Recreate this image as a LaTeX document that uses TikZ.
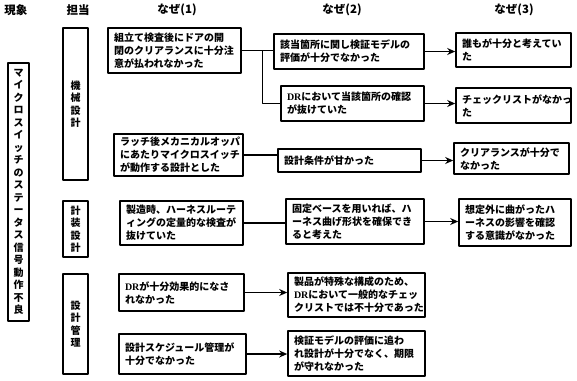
\documentclass[tikz,border=0pt]{standalone}
\usepackage{fontspec}
\setmainfont{Noto Sans CJK JP}
\newfontfamily\latserif{Liberation Serif}
\usetikzlibrary{arrows.meta, calc, positioning}
\newcommand{\DR}{{\latserif\bfseries DR}}
\tikzset{
  every picture/.style={line join=round},
  head/.style={font=\bfseries\fontsize{11.5}{13}\selectfont},
  cause/.style={draw, line width=1.6pt, align=left, inner xsep=6pt, inner ysep=2pt,
    font=\bfseries\fontsize{10}{13}\selectfont},
  vbox/.style={draw, line width=1.6pt, align=center, minimum width=24pt, inner sep=0pt,
    font=\bfseries\fontsize{10}{12.5}\selectfont},
  link/.style={draw, line width=1.4pt},
  flow/.style={link, -{Stealth[length=8pt, width=7pt]}},
}

\begin{document}
\begin{tikzpicture}[x=1pt, y=-1pt]
\useasboundingbox (0,0) rectangle (577,380);

% ---- Column headings
\node[head] (hph)  at (16, 10)  {現象};
\node[head] (hres) at (78, 10)  {担当};
\node[head] (hw1)  at (177, 10) {なぜ(1)};
\node[head] (hw2)  at (342, 10) {なぜ(2)};
\node[head] (hw3)  at (514, 10) {なぜ(3)};

% ---- Phenomenon and responsible sections (one character per line)
\node[vbox, minimum width=21pt, minimum height=258pt] (ph) at (18.5, 192)
  {マ\\イ\\ク\\ロ\\ス\\イ\\ッ\\チ\\の\\ス\\テ\\ー\\タ\\ス\\信\\号\\動\\作\\不\\良};
\node[vbox, minimum width=25pt, minimum height=152pt] (mech) at (75.5, 104) {機\\械\\設\\計};
\node[vbox, minimum width=25pt, minimum height=56pt]  (inst) at (75.5, 229) {計\\装\\設\\計};
\node[vbox, minimum width=25pt, minimum height=100pt] (mgmt) at (75.5, 324) {設\\計\\管\\理};

% ---- Why (1)
\node[cause, text width=121pt, minimum height=45pt] (w1a) at (174.5, 50.5)
  {組立て検査後にドアの開\\閉のクリアランスに十分注\\意が払われなかった};
\node[cause, text width=117pt, minimum height=42pt] (w1b) at (178.5, 155)
  {ラッチ後メカニカルオッパ\\にあたりマイクロスイッチ\\が動作する設計とした};
\node[cause, text width=111pt, minimum height=44pt] (w1c) at (181.5, 223)
  {製造時、ハーネスルーテ\\ィングの定量的な検査が\\抜けていた};
\node[cause, text width=113pt, minimum height=37pt] (w1d) at (181.5, 292.5)
  {\DR が十分効果的になさ\\れなかった};
\node[cause, text width=115pt, minimum height=40pt] (w1e) at (182.5, 354)
  {設計スケジュール管理が\\十分でなかった};

% ---- Why (2)
\node[cause, text width=138pt, minimum height=35pt] (w2a) at (349, 51.5)
  {該当箇所に関し検証モデルの\\評価が十分でなかった};
\node[cause, text width=131pt, minimum height=35pt] (w2b) at (352.5, 103.5)
  {\DR において当該箇所の確認\\が抜けていた};
\node[cause, text width=131pt, minimum height=23pt] (w2c) at (349.5, 160.5)
  {設計条件が甘かった};
\node[cause, text width=126pt, minimum height=45pt] (w2d) at (355, 221.5)
  {固定ベースを用いれば、ハ\\ーネス曲げ形状を確保でき\\ると考えた};
\node[cause, text width=125pt, minimum height=44pt] (w2e) at (356.5, 295)
  {製品が特殊な構成のため、\\\DR において一般的なチェッ\\クリストでは不十分であった};
\node[cause, text width=125pt, minimum height=45pt] (w2f) at (356.5, 353.5)
  {検証モデルの評価に追わ\\れ設計が十分でなく、期限\\が守れなかった};

% ---- Why (3)
\node[cause, text width=103pt, minimum height=34pt] (w3a) at (513.5, 50)
  {誰もが十分と考えてい\\た};
\node[cause, text width=103pt, minimum height=35pt] (w3b) at (513.5, 105.5)
  {チェックリストがなかっ\\た};
\node[cause, text width=103pt, minimum height=31pt] (w3c) at (511.5, 158.5)
  {クリアランスが十分で\\なかった};
\node[cause, text width=100pt, minimum height=47pt] (w3d) at (515, 222.5)
  {想定外に曲がったハ\\ーネスの影響を確認\\する意識がなかった};

% ---- Why (1) to why (2)
\draw[link] (w1a.east) -- (w1a.east -| w2a.west);
\coordinate (split) at ($(w1a.east)!0.65!(w1a.east -| w2a.west)$);
\draw[link] (split) |- (w2b.west);
\draw[link] (w1b.east) -- (w1b.east -| w2c.west);
\draw[link] (w1c.east) -- (w1c.east -| w2d.west);
\draw[flow] (w1d.east) -- (w1d.east -| w2e.west);
\draw[flow] (w1e.east) -- (w1e.east -| w2f.west);

% ---- Why (2) to why (3)
\draw[flow] (w2a.east) -- (w2a.east -| w3a.west);
\draw[flow] (w2b.east) -- (w2b.east -| w3b.west);
\draw[flow] (w2c.east) -- (w2c.east -| w3c.west);
\draw[flow] (w2d.east) -- (w2d.east -| w3d.west);

\end{tikzpicture}
\end{document}
